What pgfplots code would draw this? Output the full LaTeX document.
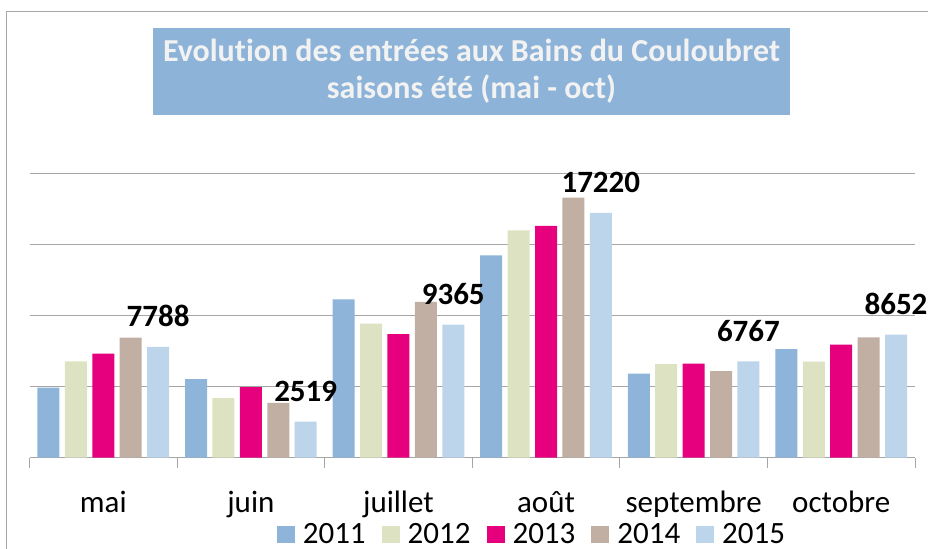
\documentclass[border=0pt]{standalone}
\usepackage{fontspec}
\setmainfont[Ligatures=NoCommon]{Carlito}
\usepackage{pgfplots}
\pgfplotsset{compat=1.18}
\definecolor{cA}{RGB}{142,180,218}
\definecolor{cB}{RGB}{221,227,194}
\definecolor{cC}{RGB}{230,0,126}
\definecolor{cD}{RGB}{192,175,162}
\definecolor{cE}{RGB}{188,213,234}
\definecolor{titlebg}{RGB}{141,179,216}
\definecolor{titlefg}{RGB}{242,242,242}
\definecolor{gridc}{RGB}{166,166,166}
\begin{document}
\begin{tikzpicture}
\useasboundingbox (0,0) rectangle (928bp,549bp);
\draw[color=gridc, line width=1bp] (6.5bp,0) -- (6.5bp,537bp) -- (928bp,537bp);
\node[fill=titlebg, minimum width=637bp, minimum height=87bp, inner sep=0pt,
      text=titlefg, align=center, font=\fontsize{32bp}{37bp}\selectfont\bfseries]
  at (471.5bp,477.5bp) {Evolution des entrées aux Bains du Couloubret\\saisons été (mai - oct)};
\begin{axis}[
  at={(29.5bp,91.5bp)}, anchor=south west,
  scale only axis, width=885.5bp, height=284bp,
  ybar=5.4bp, bar width=22bp,
  xmin=-0.5, xmax=5.5, ymin=0, ymax=20000,
  axis x line*=bottom, axis y line*=left,
  y axis line style={draw=none},
  x axis line style={color=gridc, line width=1bp},
  xtick={0,...,5},
  xticklabels={mai,juin,juillet,août,septembre,octobre},
  major x tick style={draw=none},
  minor xtick={-0.5,0.5,...,5.5},
  minor tick length=10bp,
  minor x tick style={color=gridc, line width=1bp},
  tick align=outside,
  xticklabel style={anchor=base, yshift=-51bp},
  ytick={5000,10000,15000,20000},
  scaled y ticks=false,
  yticklabels={},
  ytick style={draw=none},
  ymajorgrids,
  major grid style={color=gridc, line width=1bp},
  font=\fontsize{31bp}{37bp}\selectfont,
  tick label style={font=\fontsize{31bp}{37bp}\selectfont},
  clip=false,
  /pgf/number format/1000 sep={},
  /pgf/number format/assume math mode=true,
  legend columns=5,
  legend style={at={(0.5663,-0.3035)}, anchor=south, draw=none, fill=none,
    inner sep=0pt, outer sep=0pt, nodes={inner sep=0bp, text depth=0bp},
    /tikz/every odd column/.append style={column sep=8bp},
    /tikz/every even column/.append style={column sep=16bp},
    font=\fontsize{31bp}{37bp}\selectfont},
  legend image code/.code={\fill[#1] (0bp,-9bp) rectangle (18bp,8bp);},
]
\addplot[fill=cA, draw=none] coordinates {(0,4912) (1,5525) (2,11134) (3,14235) (4,5898) (5,7639)};
\addplot[fill=cB, draw=none] coordinates {(0,6765) (1,4186) (2,9422) (3,15997) (4,6582) (5,6744)};
\addplot[fill=cC, draw=none] coordinates {(0,7308) (1,4961) (2,8696) (3,16307) (4,6603) (5,7942)};
\addplot[fill=cD, draw=none] coordinates {(0,8435) (1,3855) (2,10951) (3,18301) (4,6089) (5,8456)};
\addplot[fill=cE, draw=none, nodes near coords,
  every node near coord/.append style={font=\fontsize{31bp}{37bp}\selectfont\bfseries, text=black, anchor=base, inner sep=0pt, yshift=20bp}]
  coordinates {(0,7788) (1,2519) (2,9365) (3,17220) (4,6767) (5,8652)};
\legend{2011,2012,2013,2014,2015}
\end{axis}
\end{tikzpicture}
\end{document}
